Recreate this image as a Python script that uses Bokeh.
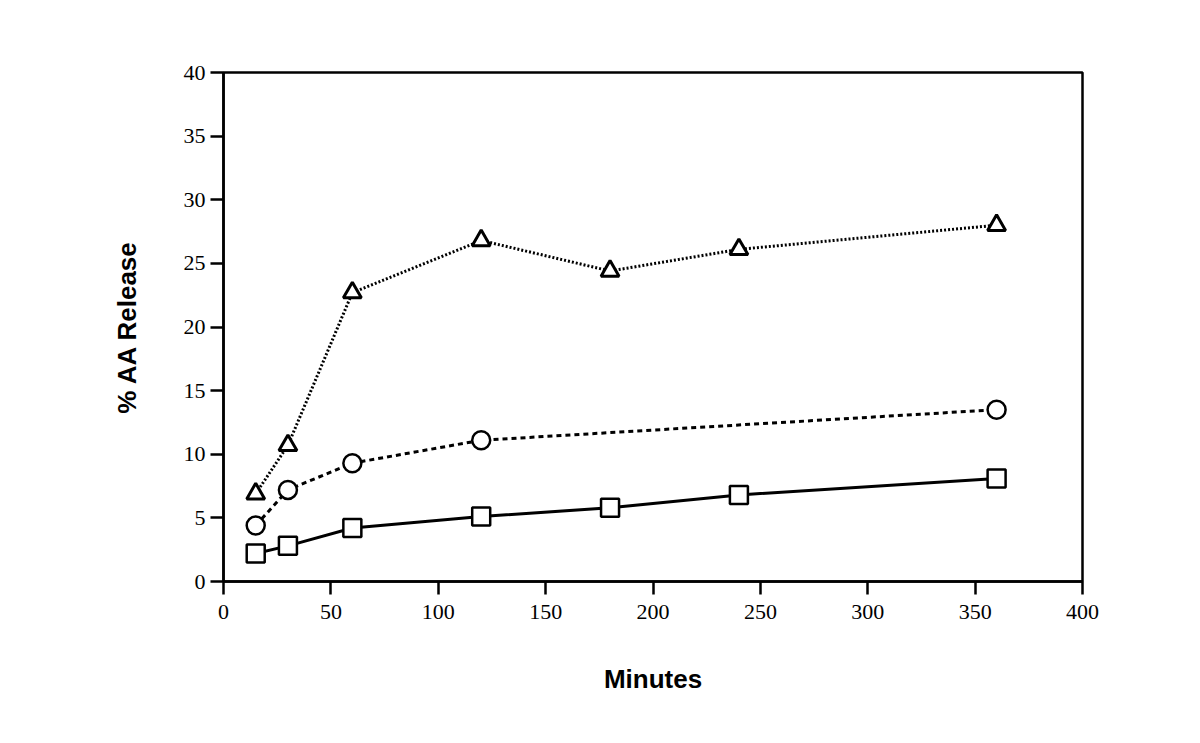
from bokeh.plotting import figure
from bokeh.models import Range1d, FixedTicker
from bokeh.embed import file_html
from bokeh.resources import INLINE

minutes = [15, 30, 60, 120, 180, 240, 360]
series_square = [2.2, 2.8, 4.2, 5.1, 5.8, 6.8, 8.1]
series_circle = [4.4, 7.2, 9.3, 11.1, None, None, 13.5]
series_triangle = [6.9, 10.7, 22.7, 26.8, 24.4, 26.1, 28.0]
x_ticks = [0, 50, 100, 150, 200, 250, 300, 350, 400]
y_ticks = [0, 5, 10, 15, 20, 25, 30, 35, 40]

W, H = 1184, 727
p = figure(width=W, height=H, output_backend="svg", toolbar_location=None,
           x_range=Range1d(0, 400), y_range=Range1d(0, 40),
           min_border_left=223, min_border_right=W - 1082,
           min_border_top=72, min_border_bottom=H - 581)
p.xgrid.visible = False
p.ygrid.visible = False
p.outline_line_color = "black"
p.outline_line_width = 2.5
p.background_fill_color = "white"
p.border_fill_color = "white"

for ax in (p.xaxis[0], p.yaxis[0]):
    ax.axis_line_width = 2.5
    ax.axis_line_color = "black"
    ax.major_tick_line_width = 2.5
    ax.major_tick_in = 0
    ax.major_tick_out = 13
    ax.minor_tick_line_color = None
    ax.major_label_text_font = "Liberation Serif"
    ax.major_label_text_font_size = "22px"
    ax.major_label_text_color = "black"
    ax.axis_label_text_font = "Liberation Sans"
    ax.axis_label_text_font_size = "26px"
    ax.axis_label_text_font_style = "bold"
    ax.axis_label_text_color = "black"

p.xaxis[0].ticker = FixedTicker(ticks=x_ticks)
p.yaxis[0].ticker = FixedTicker(ticks=y_ticks)
p.xaxis[0].axis_label = "Minutes"
p.yaxis[0].axis_label = "% AA Release"
p.xaxis[0].major_label_standoff = 10
p.yaxis[0].major_label_standoff = 5
p.xaxis[0].axis_label_standoff = 42
p.yaxis[0].axis_label_standoff = 39

# circle series only has points where measured
cx = [m for m, v in zip(minutes, series_circle) if v is not None]
cy = [v for v in series_circle if v is not None]

p.line(minutes, series_triangle, line_color="black", line_width=3, line_dash="2 2")
p.line(cx, cy, line_color="black", line_width=3, line_dash="5 4")
p.line(minutes, series_square, line_color="black", line_width=3)

p.scatter(minutes, series_triangle, marker="triangle", size=18, fill_color="white",
          line_color="black", line_width=3)
p.scatter(cx, cy, marker="circle", size=18, fill_color="white",
          line_color="black", line_width=2.5)
p.scatter(minutes, series_square, marker="square", size=18, fill_color="white",
          line_color="black", line_width=2.5)

open("out.html", "w").write(file_html(p, INLINE))
